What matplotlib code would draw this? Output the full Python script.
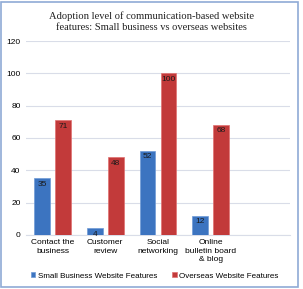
import matplotlib
matplotlib.use("Agg")
import matplotlib.pyplot as plt
from matplotlib.patches import Rectangle
import numpy as np

categories = ["Contact the\nbusiness", "Customer\nreview", "Social\nnetworking", "Online\nbulletin board\n& blog", ""]
small_business = [35, 4, 52, 12]
overseas = [71, 48, 100, 68]
series_names = ["Small Business Website Features", "Overseas Website Features"]
title = "Adoption level of communication-based website\nfeatures: Small business vs overseas websites"
yticks = [0, 20, 40, 60, 80, 100, 120]

blue = "#3C74C0"
red = "#C23A3A"

fig = plt.figure(figsize=(3.03, 2.89), dpi=100)
ax = fig.add_axes([0.086, 0.187, 0.871, 0.671])

x = np.arange(len(small_business))
w = 0.3
b1 = ax.bar(x - 0.2, small_business, w, color=blue, edgecolor="#6E9AD6", linewidth=0.5, label=series_names[0], zorder=3)
b2 = ax.bar(x + 0.2, overseas, w, color=red, edgecolor="#E07070", linewidth=0.5, label=series_names[1], zorder=3)

for rects, vals in ((b1, small_business), (b2, overseas)):
    for r, v in zip(rects, vals):
        ax.text(r.get_x() + r.get_width() / 2, v - 1.5, str(v), ha="center", va="top",
                fontsize=6, color="#1a1a1a", family="Liberation Sans", zorder=4)

ax.set_xlim(-0.5, len(categories) - 0.5)
ax.set_ylim(0, 120)
ax.set_yticks(yticks)
ax.set_xticks(np.arange(len(categories)))
ax.set_xticklabels(categories, fontsize=6, family="Liberation Sans", linespacing=1.3)
ax.tick_params(axis="y", labelsize=6, length=0, pad=4)
ax.tick_params(axis="x", length=0, pad=3)
for lab in ax.get_yticklabels():
    lab.set_family("Liberation Sans")
ax.yaxis.grid(True, color="#D9DDE8", linewidth=0.8, zorder=0)
for s in ax.spines.values():
    s.set_visible(False)
ax.spines["bottom"].set_visible(True)
ax.spines["bottom"].set_color("#D9DDE8")

fig.text(0.5, 0.926, title, ha="center", va="center", fontsize=7.6,
         family="Liberation Serif", color="#222222", linespacing=1.25)

leg = fig.legend(handles=[b1, b2], labels=series_names, loc="center", bbox_to_anchor=(0.51, 0.045),
                 ncol=2, frameon=False, handlelength=0.6, handleheight=0.6,
                 handletextpad=0.3, columnspacing=1.8, prop={"family": "Liberation Sans", "size": 5.8})

fig.patches.append(Rectangle((0.004, 0.006), 0.98, 0.988, transform=fig.transFigure,
                             fill=False, edgecolor="#8FAAD6", linewidth=1.2))

fig.savefig("out.png", dpi=100)
